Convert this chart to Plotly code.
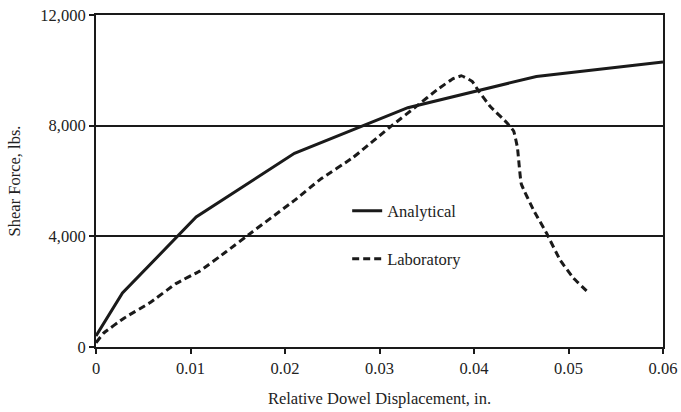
import plotly.graph_objects as go

analytical_x = [0, 0.0028, 0.0106, 0.021, 0.033, 0.0466, 0.06]
analytical_y = [400, 1950, 4700, 7000, 8650, 9780, 10300]

lab_x = [0, 0.0008, 0.003, 0.0057, 0.0085, 0.011, 0.0138, 0.0165, 0.021, 0.0237,
         0.0272, 0.0313, 0.0339, 0.0361, 0.0378, 0.0387, 0.0398, 0.0406, 0.0417,
         0.0435, 0.0442, 0.0446, 0.045, 0.0463, 0.0477, 0.0491, 0.0505, 0.052]
lab_y = [150, 500, 1050, 1600, 2300, 2750, 3450, 4150, 5300, 6050,
         6850, 8000, 8700, 9300, 9700, 9800, 9600, 9200, 8700,
         8100, 7800, 7200, 5900, 4950, 4100, 3150, 2500, 2000]

x_ticks = [0, 0.01, 0.02, 0.03, 0.04, 0.05, 0.06]
y_ticks = [0, 4000, 8000, 12000]

font = dict(family="Liberation Serif, Times New Roman, serif", size=16.5, color="#222")

fig = go.Figure()
fig.add_trace(go.Scatter(x=analytical_x, y=analytical_y, mode="lines", name="Analytical",
                         line=dict(color="#1a1a1a", width=3), legend="legend", showlegend=True))
fig.add_trace(go.Scatter(x=lab_x, y=lab_y, mode="lines", name="Laboratory",
                         line=dict(color="#1a1a1a", width=3, dash="7px,4px", shape="spline", smoothing=0.3),
                         legend="legend2", showlegend=True))

leg_common = dict(font=font, bgcolor="rgba(0,0,0,0)", itemwidth=30,
                  xanchor="left", yanchor="middle", tracegroupgap=0)
fig.update_layout(
    width=681, height=412,
    margin=dict(l=96, r=18, t=15, b=65),
    paper_bgcolor="white", plot_bgcolor="white",
    font=font,
    showlegend=True,
    legend=dict(x=0.443, y=(347 - 211) / 332, **leg_common),
    legend2=dict(x=0.443, y=(347 - 259) / 332, **leg_common),
    xaxis=dict(range=[0, 0.06], tickvals=x_ticks, ticktext=[str(v) for v in x_ticks],
               showgrid=False, zeroline=False, showline=True, linecolor="#1a1a1a",
               linewidth=2, mirror=True, ticks="outside", ticklen=5, tickwidth=2,
               tickcolor="#1a1a1a", automargin=False,
               title=dict(text="Relative Dowel Displacement, in.", font=font, standoff=16)),
    yaxis=dict(range=[0, 12000], tickvals=y_ticks, tickformat=",d",
               showgrid=True, gridcolor="#1a1a1a", gridwidth=1.5, zeroline=False,
               showline=True, linecolor="#1a1a1a", linewidth=2, mirror=True,
               ticks="outside", ticklen=5, tickwidth=2, tickcolor="#1a1a1a", automargin=False,
               title=dict(text="Shear Force, lbs.", font=font, standoff=16)),
)
fig.write_html("out.html")
